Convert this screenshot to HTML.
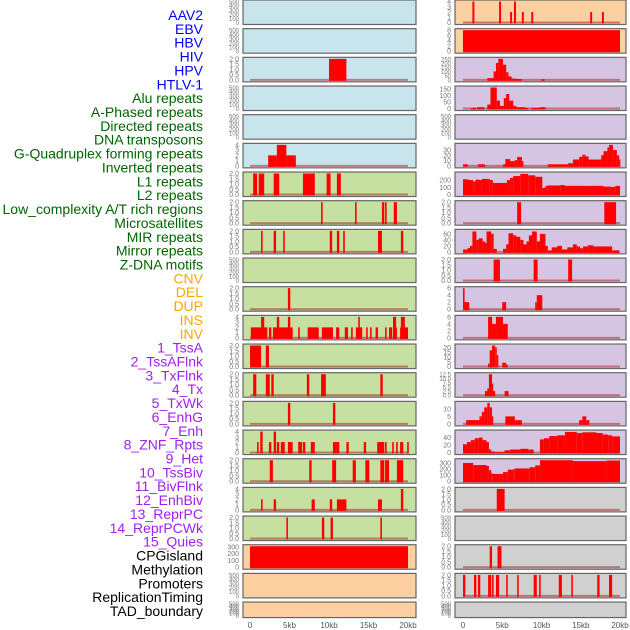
<!DOCTYPE html>
<html><head><meta charset="utf-8"><style>
html,body{margin:0;padding:0;background:#fff;}
svg{display:block;font-family:"Liberation Sans",sans-serif;}
</style></head><body>
<svg id="chart" width="630" height="630" viewBox="0 0 630 630" xmlns="http://www.w3.org/2000/svg"></svg>
<script>
const trackLabels = ["AAV2","EBV","HBV","HIV","HPV","HTLV-1","Alu repeats","A-Phased repeats","Directed repeats","DNA transposons","G-Quadruplex forming repeats","Inverted repeats","L1 repeats","L2 repeats","Low_complexity A/T rich regions","Microsatellites","MIR repeats","Mirror repeats","Z-DNA motifs","CNV","DEL","DUP","INS","INV","1_TssA","2_TssAFlnk","3_TxFlnk","4_Tx","5_TxWk","6_EnhG","7_Enh","8_ZNF_Rpts","9_Het","10_TssBiv","11_BivFlnk","12_EnhBiv","13_ReprPC","14_ReprPCWk","15_Quies","CPGisland","Methylation","Promoters","ReplicationTiming","TAD_boundary"];
const labelGroups = [6,13,5,15,5];
const groupColors = ["#0000ff","#006400","#ffa500","#a020f0","#000000"];
const xTickLabels = ["0","5kb","10kb","15kb","20kb"];
const xTickValues = [0,5,10,15,20];

const T500=["0","100","200","300","400","500"], T2=["0.0","0.5","1.0","1.5","2.0"], T4=["0","1","2","3","4"];
const leftTicks = [T500,T500,T2,T500,T500,T4,T2,T2,T2,T500,T2,T4,T2,T2,T2,T4,T2,T4,T2,["0","100","200","300"],T500,T500];
const leftMax = [500,500,2,500,500,4,2,2,2,500,2,4,2,2,2,4,2,4,2,310,500,500];
const leftColors = ["#c8e4ec","#c8e4ec","#c8e4ec","#c8e4ec","#c8e4ec","#c8e4ec","#c5e0a0","#c5e0a0","#c5e0a0","#c5e0a0","#c5e0a0","#c5e0a0","#c5e0a0","#c5e0a0","#c5e0a0","#c5e0a0","#c5e0a0","#c5e0a0","#c5e0a0","#fdd0a2","#fdd0a2","#fdd0a2"];
const leftBars = [
 [],[],
 [[10,12.2,2]],
 [],[],
 [[2.3,3.4,2],[3.4,4.6,4],[4.6,5.8,2]],
 [[0.4,0.9,2],[1.1,1.8,2],[3.0,3.7,2],[6.7,8.2,2],[9.7,10.2,2],[11,11.5,2]],
 [[9.0,9.2,2],[13.3,13.5,2],[16.7,17.0,2],[17.1,17.3,2],[18.2,18.6,2]],
 [[1.4,1.6,2],[3.0,3.3,2],[4.2,4.4,2],[10.1,10.4,2],[11,11.3,2],[11.8,12,2],[16.2,16.7,2],[19.1,19.4,2]],
 [],
 [[4.8,5.1,2]],
 [[0.1,2.2,2],[1.4,1.8,4],[2.4,2.7,2],[2.9,5.4,2],[3.4,3.7,4],[4.8,5.1,4],[6.1,6.3,2],[7.3,8.7,2],[9.1,10.5,2],[10.9,11.3,2],[12.0,12.4,2],[12.8,13.0,2],[13.4,14.2,2],[13.7,13.9,4],[14.7,14.9,2],[15.2,15.4,2],[15.9,16.2,2],[17.1,17.3,2],[17.6,18.0,2],[18.1,18.6,2],[18.1,18.5,4],[19.0,20,2],[19.1,19.6,4]],
 [[0,1.4,2],[2.0,2.4,2]],
 [[0.4,0.8,2],[2.0,2.5,2],[2.7,3.0,2],[7.2,7.5,2],[9.0,9.6,2],[16.5,16.8,2]],
 [[4.8,5.1,2],[10.5,10.8,2]],
 [[0.9,1.1,2],[1.3,1.6,4],[2.4,2.7,2],[3.0,3.3,4],[3.4,3.7,2],[3.9,4.4,2],[4.8,5.4,2],[6.1,6.6,2],[6.7,7.0,2],[7.7,8.2,2],[10.5,11.0,2],[11.0,11.3,2],[12.2,12.5,2],[14.4,14.7,2],[16.1,17.0,2],[17.1,17.3,2],[18.0,18.2,2],[18.5,18.7,2],[19.0,19.4,2],[19.9,20.1,2]],
 [[2.5,2.9,2],[7.5,7.8,2],[10.4,10.9,2],[13.0,13.4,2],[14.6,15.1,2],[16.5,17.0,2],[17.1,17.6,2],[18.6,19.4,2]],
 [[1.4,1.6,2],[3.0,3.3,2],[7.8,8.2,2],[10.1,10.4,2],[11.0,12.2,2],[16.2,16.7,2],[19.1,19.4,4]],
 [[4.6,4.8,2],[9.1,9.4,2],[10.2,10.5,2],[16.5,16.7,2]],
 [[0,20,310]],
 [],[]
];

const rightTicks = [T4,["0","2","4","6","8"],["0","50","100","150","200","250"],["0","50","100","150"],T500,["0","10","20","30"],["0","100","200"],T2,["0","20","40","60"],T2,["0","2","4","6"],["0","2","4","6"],["0","5","10","15","20"],["0.0","2.5","5.0","7.5","10.0","12.5"],["0","5","10"],["0","20","40"],["0","100","200","300"],T2,T500,T2,T2,T500];
const rightMax = [4,8,250,160,500,40,290,2,70,2,6,6,22,12.5,14,56,345,2,500,2,2,500];
const rightColors = ["#fdd0a2","#fdd0a2","#d5c5e2","#d5c5e2","#d5c5e2","#d5c5e2","#d5c5e2","#d5c5e2","#d5c5e2","#d5c5e2","#d5c5e2","#d5c5e2","#d5c5e2","#d5c5e2","#d5c5e2","#d5c5e2","#d5c5e2","#d0d0d0","#d0d0d0","#d0d0d0","#d0d0d0","#d0d0d0"];
const rightBars = [
 [[1.2,1.45,4],[4.6,4.85,4],[6.0,6.25,2],[6.5,6.75,4],[7.5,7.75,2],[8.7,8.95,2],[16.2,16.45,2],[17.7,17.95,2]],
 [[0,20,8]],
 [[3.1,3.9,20],[3.9,4.2,100],[4.2,4.5,200],[4.5,5.1,250],[5.1,5.5,180],[5.5,5.8,90],[5.8,6.2,40],[6.2,6.8,15],[6.8,7.5,10],[10,10.4,8]],
 [[1.0,1.7,5],[1.8,2.7,10],[3.1,3.5,30],[3.5,4.3,160],[4.3,4.7,60],[4.7,5.2,20],[5.2,5.5,80],[5.5,5.9,110],[5.9,6.4,60],[6.4,6.8,20],[6.8,7.9,10],[7.9,8.3,5],[8.7,9.8,5],[9.8,10.5,10]],
 [],
 [[0,0.6,3],[1.9,2.8,3],[5.1,5.4,3],[5.4,6.0,13],[6.0,6.6,9],[6.6,6.9,11],[6.9,7.5,17],[7.5,7.7,9],[10.8,13.4,3],[13.4,14,5],[14,14.8,12],[14.8,15.2,17],[15.2,15.6,21],[15.6,16,18],[16,17.6,12],[17.6,17.9,20],[17.9,18.4,28],[18.4,18.6,35],[18.6,19.1,40],[19.1,19.6,30],[19.6,19.9,20],[19.9,20,12]],
 [[0,0.7,210],[0.7,1.3,200],[1.3,1.6,180],[1.6,2.1,205],[2.1,2.4,200],[2.4,3.4,215],[3.4,3.8,200],[3.8,5.6,160],[5.6,6.0,200],[6.0,6.4,230],[6.4,7.3,255],[7.3,8.3,285],[8.3,9.2,265],[9.2,10.1,245],[10.1,10.5,90],[10.5,10.8,120],[10.8,12.4,125],[12.4,13,130],[13,15.8,120],[15.8,17.9,120],[17.9,18.8,110],[18.8,19.4,105],[19.4,20,120]],
 [[6.9,7.4,2],[18,19.5,2]],
 [[0,0.6,8],[0.6,0.9,13],[0.9,1.2,20],[1.2,1.7,68],[1.7,2.0,40],[2.0,2.5,45],[2.5,2.8,35],[2.8,3.0,30],[3.0,3.6,68],[3.6,3.9,60],[3.9,4.3,10],[5.1,5.5,10],[5.5,5.8,25],[5.8,6.4,62],[6.4,6.8,55],[6.8,7.3,50],[7.3,7.7,40],[7.7,8.1,25],[8.1,8.4,35],[8.4,8.8,55],[8.8,9.4,68],[9.4,9.8,35],[9.8,10.5,60],[10.5,10.8,20],[10.8,11.3,5],[11.3,12,15],[12,12.6,20],[12.6,13.3,8],[13.3,14,15],[14,14.5,25],[14.5,14.9,18],[14.9,15.3,12],[15.3,15.9,18],[15.9,16.6,22],[16.6,19,18],[19,19.9,5]],
 [[3.9,4.7,2],[9.0,9.5,2],[13.4,13.9,2]],
 [[0,0.2,6],[0.2,0.8,2],[5.0,5.5,2],[9.2,9.4,2],[9.4,10.1,4]],
 [[3.2,3.7,6],[3.7,4.2,4],[4.2,5.1,6],[5.1,5.7,4]],
 [[3.2,3.4,3],[3.4,3.7,17],[3.7,4.1,22],[4.1,4.3,20],[4.3,4.5,12],[5.0,5.5,4],[5.5,5.7,2]],
 [[2.8,3.1,2.5],[3.1,3.3,4],[3.3,3.7,12.5],[3.7,3.8,7],[3.8,4.1,2.5],[5.3,5.8,2.5]],
 [[0.4,2.1,2.5],[2.1,2.4,5],[2.4,2.7,8],[2.7,3.1,11],[3.1,3.4,14],[3.4,3.7,11],[3.7,3.8,5],[5.4,6.6,5],[6.6,7.5,2.5],[14.8,15.2,2.5],[15.2,15.7,5],[15.7,16.1,2.5]],
 [[0,0.5,22],[0.5,1,28],[1,1.5,33],[1.5,2,38],[2,2.5,40],[2.5,3,33],[3,3.3,28],[3.3,3.6,8],[3.6,4,3],[4,5.3,1],[5.3,6,6],[6,7.3,8],[7.3,8.3,10],[8.3,9,8],[9.8,10.3,35],[10.3,11,38],[11,12,44],[12,13,46],[13,14.5,55],[14.5,15.2,52],[15.2,17,54],[17,17.8,52],[17.8,18.5,48],[18.5,19,46],[19,20,43]],
 [[0,1.3,300],[1.3,3.0,265],[3.0,3.3,250],[3.3,3.6,180],[3.6,3.8,130],[3.8,5.1,120],[5.1,5.7,150],[5.7,6.4,190],[6.4,6.6,200],[6.6,8.5,210],[8.5,9.2,230],[9.2,9.8,260],[9.8,14,345],[14,18.3,330],[18.3,20,340]],
 [[4.3,5.3,2]],
 [],
 [[3.4,3.7,2],[4.4,4.9,2]],
 [[0,0.3,2],[1.4,1.7,2],[1.9,2.2,2],[3.2,3.6,2],[3.7,3.9,2],[4.2,4.6,2],[5.5,5.7,2],[6.9,7.1,2],[9.0,9.4,2],[9.7,9.9,2],[12.2,12.6,2],[13.8,14.0,2],[17.1,17.4,2],[18.6,19.0,2]],
 []
];

const NS="http://www.w3.org/2000/svg";
const svg=document.getElementById('chart');
function mk(tag,attrs,parent){const e=document.createElementNS(NS,tag);for(const k in attrs)e.setAttribute(k,attrs[k]);(parent||svg).appendChild(e);return e;}

// labels
let li=0;
labelGroups.forEach((n,g)=>{for(let j=0;j<n;j++){
  const t=mk('text',{x:203,y:15+li*13.86+5,'text-anchor':'end','font-size':14,fill:groupColors[g]});
  t.textContent=trackLabels[li];
  
  
  li++;}});

function drawColumn(px0,px1,kb0,kbScale,tickX,ticks,maxes,colors,bars,side){
  for(let i=0;i<22;i++){
    const top=i*28.67, h=(i===21)?15.5:24.5, bot=top+h;
    const g=mk('g',{});
    
    
    mk('rect',{x:px0,y:top,width:px1-px0,height:h,fill:colors[i],stroke:'#666','stroke-width':1.2},g);
    const y0=bot-2, span=h-3.5;
    const yv=v=>y0-v/maxes[i]*span;
    if(bars[i].length){
      const bl=mk('rect',{x:kb0,y:y0-1,width:20*kbScale,height:2,fill:'rgba(170,40,40,0.55)'},g);
      
      
    }
    bars[i].forEach(b=>{
      const yt=Math.max(top+0.6,yv(b[2]));
      const r=mk('rect',{x:kb0+b[0]*kbScale,y:yt,width:Math.max(1.2,(b[1]-b[0])*kbScale),height:y0-yt+1,fill:'#ff0000'},g);
      
      
    });
    const tk=ticks[i], n=tk.length;
    tk.forEach((lab,k)=>{
      const v=parseFloat(lab);
      const t=mk('text',{x:tickX,y:yv(v)+2.5,'text-anchor':'end','font-size':(n>5?6:7),fill:'#777'},g);
      t.textContent=lab;
      
      
    });
  }
  xTickValues.forEach((v,k)=>{
    const t=mk('text',{x:kb0+v*kbScale,y:628,'text-anchor':'middle','font-size':8,fill:'#555'});
    t.textContent=xTickLabels[k];
    
    
  });
}
drawColumn(243,416,250,7.9,239,leftTicks,leftMax,leftColors,leftBars,'left');
drawColumn(455,626,463,7.85,451,rightTicks,rightMax,rightColors,rightBars,'right');
</script>
</body></html>
